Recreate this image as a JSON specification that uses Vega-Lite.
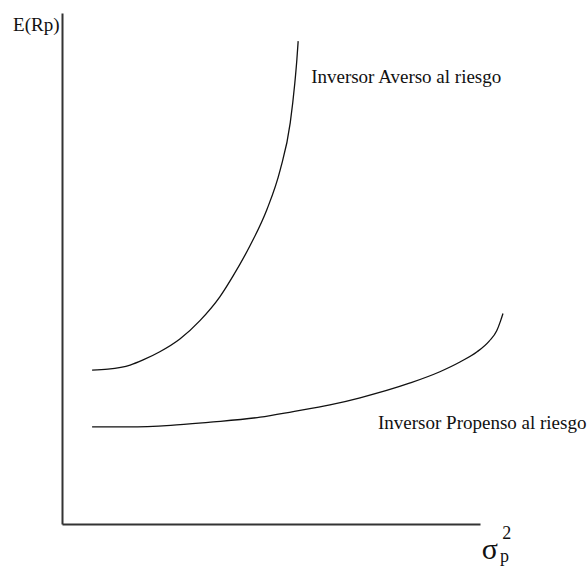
{
  "$schema": "https://vega.github.io/schema/vega-lite/v6.json",
  "width": 418,
  "height": 511,
  "autosize": {"type": "none"},
  "padding": {"left": 62, "top": 13, "right": 107, "bottom": 47},
  "background": "white",
  "config": {
    "view": {"stroke": null},
    "text": {"font": "Liberation Serif", "color": "#111"}
  },
  "datasets": {
    "curves": [
      {"curve": "Averso", "order": 1, "x": 0.72, "y": 3.01},
      {"curve": "Averso", "order": 2, "x": 1.1, "y": 3.03},
      {"curve": "Averso", "order": 3, "x": 1.63, "y": 3.11},
      {"curve": "Averso", "order": 4, "x": 1.94, "y": 3.21},
      {"curve": "Averso", "order": 5, "x": 2.34, "y": 3.37},
      {"curve": "Averso", "order": 6, "x": 2.82, "y": 3.62},
      {"curve": "Averso", "order": 7, "x": 3.3, "y": 3.98},
      {"curve": "Averso", "order": 8, "x": 3.78, "y": 4.45},
      {"curve": "Averso", "order": 9, "x": 4.09, "y": 4.85},
      {"curve": "Averso", "order": 10, "x": 4.5, "y": 5.45},
      {"curve": "Averso", "order": 11, "x": 4.9, "y": 6.15},
      {"curve": "Averso", "order": 12, "x": 5.22, "y": 6.93},
      {"curve": "Averso", "order": 13, "x": 5.46, "y": 7.85},
      {"curve": "Averso", "order": 14, "x": 5.57, "y": 8.63},
      {"curve": "Averso", "order": 15, "x": 5.62, "y": 9.1},
      {"curve": "Averso", "order": 16, "x": 5.65, "y": 9.45},
      {"curve": "Propenso", "order": 1, "x": 0.72, "y": 1.9},
      {"curve": "Propenso", "order": 2, "x": 1.6, "y": 1.9},
      {"curve": "Propenso", "order": 3, "x": 2.6, "y": 1.93},
      {"curve": "Propenso", "order": 4, "x": 3.5, "y": 1.99},
      {"curve": "Propenso", "order": 5, "x": 4.74, "y": 2.09},
      {"curve": "Propenso", "order": 6, "x": 5.53, "y": 2.2},
      {"curve": "Propenso", "order": 7, "x": 6.41, "y": 2.33},
      {"curve": "Propenso", "order": 8, "x": 7.13, "y": 2.47},
      {"curve": "Propenso", "order": 9, "x": 8.33, "y": 2.76},
      {"curve": "Propenso", "order": 10, "x": 9.04, "y": 2.98},
      {"curve": "Propenso", "order": 11, "x": 9.52, "y": 3.17},
      {"curve": "Propenso", "order": 12, "x": 9.93, "y": 3.37},
      {"curve": "Propenso", "order": 13, "x": 10.22, "y": 3.58},
      {"curve": "Propenso", "order": 14, "x": 10.4, "y": 3.78},
      {"curve": "Propenso", "order": 15, "x": 10.49, "y": 3.97},
      {"curve": "Propenso", "order": 16, "x": 10.55, "y": 4.12}
    ],
    "labels": [
      {"label": "Inversor Averso al riesgo", "x": 5.96, "y": 8.63},
      {"label": "Inversor Propenso al riesgo", "x": 7.56, "y": 1.86},
      {"label": "E(Rp)", "x": -1.17, "y": 9.65}
    ]
  },
  "layer": [
    {
      "data": {"name": "curves"},
      "mark": {"type": "line", "interpolate": "monotone", "color": "#111", "strokeWidth": 1.3, "clip": false},
      "encoding": {
        "x": {
          "field": "x", "type": "quantitative",
          "scale": {"domain": [0, 10], "nice": false, "zero": false},
          "axis": {"title": null, "labels": false, "ticks": false, "grid": false, "domainColor": "#333", "domainWidth": 2}
        },
        "y": {
          "field": "y", "type": "quantitative",
          "scale": {"domain": [0, 10], "nice": false, "zero": false},
          "axis": {"title": null, "labels": false, "ticks": false, "grid": false, "domainColor": "#333", "domainWidth": 2}
        },
        "detail": {"field": "curve"},
        "order": {"field": "order", "type": "quantitative"}
      }
    },
    {
      "data": {"name": "labels"},
      "mark": {"type": "text", "align": "left", "baseline": "alphabetic", "fontSize": 19, "clip": false},
      "encoding": {
        "x": {"field": "x", "type": "quantitative"},
        "y": {"field": "y", "type": "quantitative"},
        "text": {"field": "label"}
      }
    },
    {
      "data": {"values": [{"label": "σ", "x": 10.04, "y": -0.69}]},
      "mark": {"type": "text", "align": "left", "baseline": "alphabetic", "fontSize": 30, "clip": false},
      "encoding": {
        "x": {"field": "x", "type": "quantitative"},
        "y": {"field": "y", "type": "quantitative"},
        "text": {"field": "label"}
      }
    },
    {
      "data": {"values": [{"label": "p", "x": 10.48, "y": -0.74}, {"label": "2", "x": 10.53, "y": -0.29}]},
      "mark": {"type": "text", "align": "left", "baseline": "alphabetic", "fontSize": 18, "clip": false},
      "encoding": {
        "x": {"field": "x", "type": "quantitative"},
        "y": {"field": "y", "type": "quantitative"},
        "text": {"field": "label"}
      }
    }
  ]
}
